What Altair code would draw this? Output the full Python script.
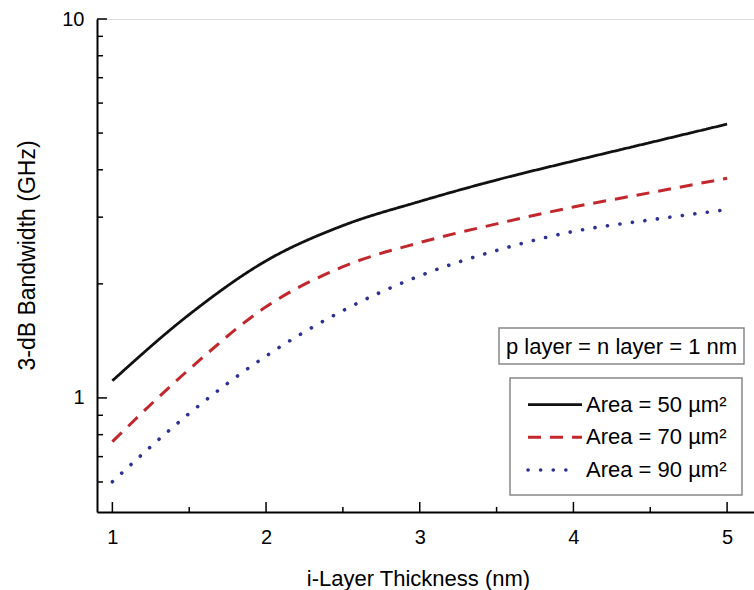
import altair as alt
import pandas as pd

# ---- data ----
thickness = [1, 1.5, 2, 2.5, 3, 3.5, 4, 4.5, 5]
bw_50 = [1.11, 1.66, 2.30, 2.85, 3.30, 3.76, 4.22, 4.72, 5.28]
bw_70 = [0.767, 1.19, 1.74, 2.22, 2.57, 2.88, 3.19, 3.48, 3.80]
bw_90 = [0.601, 0.91, 1.29, 1.70, 2.10, 2.45, 2.75, 2.95, 3.14]
series = ["Area = 50 µm²", "Area = 70 µm²", "Area = 90 µm²"]
colors = ["#111111", "#c1272d", "#2e3192"]
dashes = [[1, 0], [13, 9], [0.1, 12.5]]
caps = ["butt", "butt", "round"]
widths = [2.8, 3, 3.6]

x_major = [1, 2, 3, 4, 5]
x_minor = [1.5, 2.5, 3.5, 4.5]
y_major = [1, 10]
y_minor = [0.6, 0.7, 0.8, 0.9, 2, 3, 4, 5, 6, 7, 8, 9]
note = ["p layer = n layer = 1 nm"]

W, H = 657, 493
FONT = "Liberation Sans"
xs = alt.Scale(domain=[0.9, 5.175], nice=False, zero=False)
ys = alt.Scale(type="log", domain=[0.5, 10], nice=False)

x_axis = alt.Axis(
    values=x_major, tickSize=0, grid=False, domainColor="black", domainWidth=2,
    labelFontSize=20, labelPadding=15, labelColor="black", labelFlush=False,
    title="i-Layer Thickness (nm)", titleFontSize=22, titleFontWeight="normal",
    titleColor="black", titleX=321, titleY=66, titleBaseline="middle", titleAlign="center")
y_axis = alt.Axis(
    values=y_major, format="~g", tickSize=0, grid=False, domainColor="black", domainWidth=2,
    labelFontSize=20, labelPadding=13, labelColor="black",
    title="3-dB Bandwidth (GHz)", titleFontSize=23, titleFontWeight="normal",
    titleColor="black", titleX=-70, titleY=236, titleBaseline="middle", titleAlign="center")

X = lambda: alt.X("t:Q", scale=xs, axis=x_axis, title="i-Layer Thickness (nm)")
Y = lambda: alt.Y("bw:Q", scale=ys, axis=y_axis, title="3-dB Bandwidth (GHz)")

layers = []
for i, (name, vals) in enumerate(zip(series, [bw_50, bw_70, bw_90])):
    d = pd.DataFrame({"t": thickness, "bw": vals, "series": name})
    layers.append(
        alt.Chart(d).mark_line(color=colors[i], strokeDash=dashes[i], strokeCap=caps[i],
                               strokeWidth=widths[i], interpolate="monotone").encode(x=X(), y=Y())
    )

layers.append(alt.Chart(pd.DataFrame({"t": x_major})).mark_rule(color="black", strokeWidth=1.5).encode(
    x=X(), y=alt.value(H), y2=alt.value(H - 10)))
layers.append(alt.Chart(pd.DataFrame({"t": x_minor})).mark_rule(color="black", strokeWidth=1.5).encode(
    x=X(), y=alt.value(H), y2=alt.value(H - 5)))
layers.append(alt.Chart(pd.DataFrame({"bw": y_major})).mark_rule(color="black", strokeWidth=1.5).encode(
    y=Y(), x=alt.value(0), x2=alt.value(10)))
layers.append(alt.Chart(pd.DataFrame({"bw": y_minor})).mark_rule(color="black", strokeWidth=1.5).encode(
    y=Y(), x=alt.value(0), x2=alt.value(6)))

# annotation box
note_df = pd.DataFrame({"label": note})
layers.append(alt.Chart(note_df).mark_rect(fill="white", stroke="#888888", strokeWidth=1.5).encode(
    x=alt.value(402), x2=alt.value(647), y=alt.value(309), y2=alt.value(345)))
layers.append(alt.Chart(note_df).mark_text(fontSize=22, font=FONT, color="black",
                                           align="center", baseline="middle").encode(
    x=alt.value(524.5), y=alt.value(327.5), text="label:N"))

# legend box (drawn by hand)
leg_df = pd.DataFrame({"label": series})
layers.append(alt.Chart(leg_df.head(1)).mark_rect(fill="white", stroke="#888888", strokeWidth=1.5).encode(
    x=alt.value(413), x2=alt.value(645), y=alt.value(359), y2=alt.value(476)))
row_y = [385.7, 418.3, 451.0]
sym_end = [485, 485, 473]
for i, name in enumerate(series):
    one = pd.DataFrame({"label": [name]})
    layers.append(alt.Chart(one).mark_rule(color=colors[i], strokeDash=dashes[i], strokeCap=caps[i],
                                           strokeWidth=widths[i]).encode(
        x=alt.value(431), x2=alt.value(sym_end[i]), y=alt.value(row_y[i])))
    layers.append(alt.Chart(one).mark_text(fontSize=22, font=FONT, color="black",
                                           align="left", baseline="middle").encode(
        x=alt.value(489), y=alt.value(row_y[i]), text="label:N"))

chart = alt.layer(*layers).properties(
    width=W, height=H,
    autosize=alt.AutoSizeParams(type="none"),
    padding={"left": 97, "top": 19, "right": 0, "bottom": 78},
).configure_view(
    stroke="#aaaaaa", strokeWidth=1.5
).configure_axis(
    labelFont=FONT, titleFont=FONT
).configure(background="white")

chart.save("out.html", embed_options={"renderer": "svg", "actions": False})
